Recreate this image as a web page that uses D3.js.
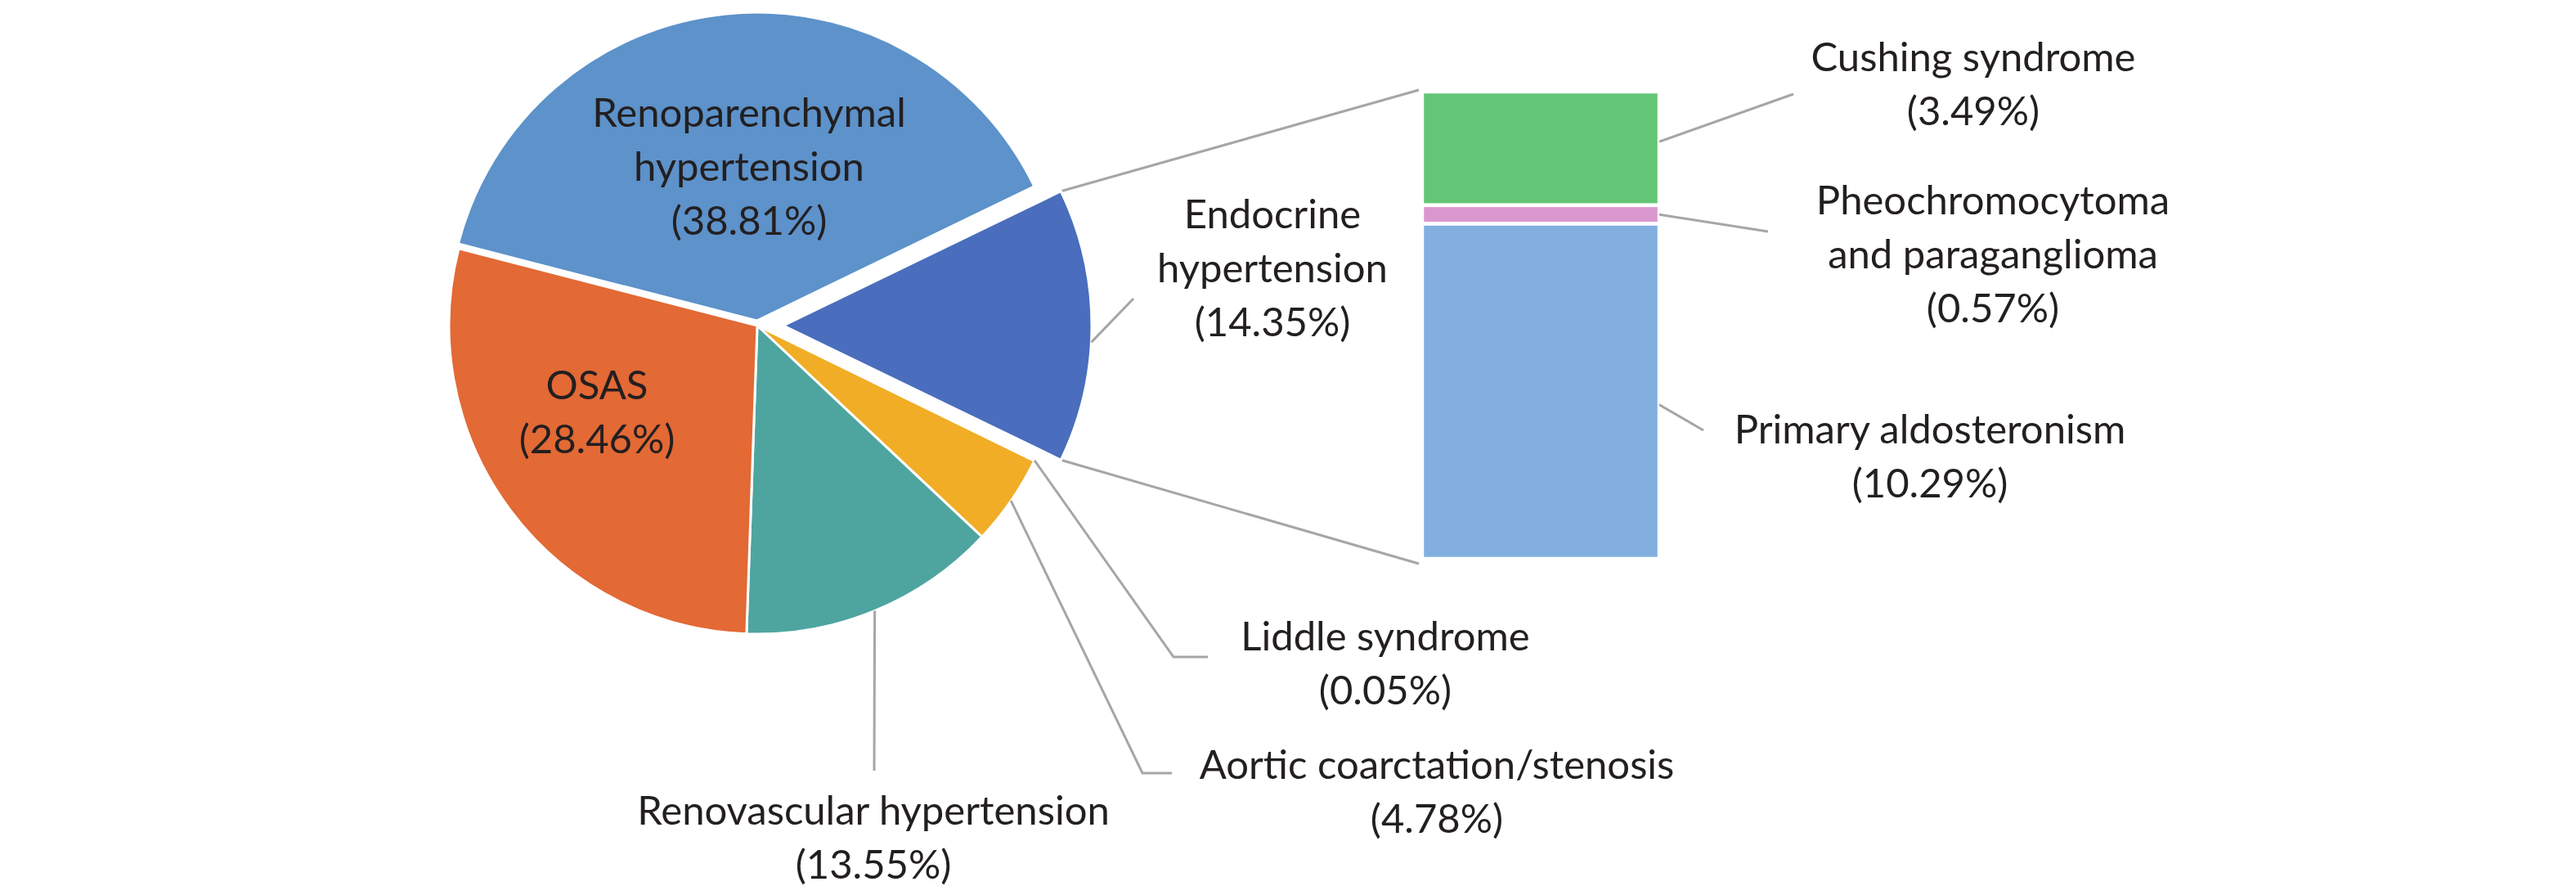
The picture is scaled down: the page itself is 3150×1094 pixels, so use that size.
<!DOCTYPE html>
<head>
  <meta charset="utf-8">
  <script src="https://d3js.org/d3.v7.min.js"></script>
  <style>
    body { margin:0; background:#fff; }
    .label {
      font-family: Lato, 'Open Sans', sans-serif;
      font-size: 49px;
      fill: #231f20;
      text-anchor: middle;
    }
    .leader {
      fill: none;
      stroke: #a6a6a6;
      stroke-width: 3;
    }
    .slice, .seg {
      stroke: #fff;
    }
  </style>
</head>
<body>
  <div class="chart"></div>

  <script>
    // main pie, clockwise from the "other" slice
    const pieCategories = ['Endocrine\nhypertension', 'Liddle syndrome', 'Aortic coarctation/stenosis',
      'Renovascular hypertension', 'OSAS', 'Renoparenchymal\nhypertension'];
    const pieValues = [14.35, 0.05, 4.78, 13.55, 28.46, 38.81];
    const pieColors = ['#4a6dbd', '#e01b22', '#f1ad25', '#4ea59f', '#e36935', '#5d92ca'];

    // secondary stacked bar, top to bottom
    const barCategories = ['Cushing syndrome', 'Pheochromocytoma\nand paraganglioma', 'Primary aldosteronism'];
    const barValues = [3.49, 0.57, 10.29];
    const barColors = ['#63c676', '#da97ce', '#82afe0'];

    const width = 3150, height = 1094;
    const cx = 926, cy = 398, radius = 377;
    const lineHeight = 66;
    const bar = { x: 1739, width: 290, top: 112, bottom: 683 };

    // explode distance per slice index
    const explode = [32, 0, 0, 0, 0, 6];

    // label layout: text centre x, first baseline y, leader attach fraction, leader end points
    const pieLabelPos = [
      { x: 1556, y: 279, t: 0.56, leader: [[1386, 365]] },
      { x: 1694, y: 795, t: 0.5, leader: [[1435, 803], [1477, 803]] },
      { x: 1757, y: 952, t: 0.5, leader: [[1397, 945], [1433, 945]] },
      { x: 1068, y: 1008, t: 0.5, leader: [[1069, 942]] },
      { x: 730, y: 488 },
      { x: 916, y: 155 }
    ];
    const barLabelPos = [
      { x: 2413, y: 87, t: 0.44, leader: [[2193, 115]] },
      { x: 2437, y: 262, t: 0.5, leader: [[2162, 283]] },
      { x: 2360, y: 542, t: 0.54, leader: [[2083, 526]] }
    ];

    const svg = d3.select('.chart')
      .append('svg')
        .attr('width', width)
        .attr('height', height);

    const total = d3.sum(pieValues);
    const otherShare = pieValues[0] / total * 2 * Math.PI;
    const start = Math.PI / 2 - otherShare / 2;

    const pie = d3.pie()
      .sort(null)
      .value(d => d)
      .startAngle(start)
      .endAngle(start + 2 * Math.PI);

    const arcs = pie(pieValues);
    const arc = d3.arc().innerRadius(0).outerRadius(radius);

    const offsetOf = (d, i) => {
      const mid = (d.startAngle + d.endAngle) / 2;
      return [cx + explode[i] * Math.sin(mid), cy - explode[i] * Math.cos(mid)];
    };
    const onArc = (d, i, a) => {
      const o = offsetOf(d, i);
      return [o[0] + radius * Math.sin(a), o[1] - radius * Math.cos(a)];
    };

    // bar scale
    const barTotal = d3.sum(barValues);
    const yScale = d3.scaleLinear()
      .domain([0, barTotal])
      .range([bar.top, bar.bottom]);
    const stacked = barValues.map((v, i) => {
      const y0 = d3.sum(barValues.slice(0, i));
      return { v, y0, y1: y0 + v };
    });

    // connector lines from the exploded slice to the bar
    const other = arcs[0];
    const line = d3.line();
    svg.append('path')
      .attr('class', 'leader')
      .attr('d', line([onArc(other, 0, other.startAngle), [bar.x - 4, yScale(0) - 2]]));
    svg.append('path')
      .attr('class', 'leader')
      .attr('d', line([onArc(other, 0, other.endAngle), [bar.x - 4, yScale(barTotal) + 6]]));

    // slices
    const slices = svg.selectAll('.slice')
      .data(arcs)
      .enter()
      .append('path')
        .attr('class', 'slice')
        .attr('transform', (d, i) => `translate(${offsetOf(d, i)})`)
        .attr('d', arc)
        .attr('fill', (d, i) => pieColors[i])
        .attr('stroke-width', 3);

    // the tiny slice would vanish under the white borders, so outline it in its own colour on top
    slices.filter((d, i) => pieValues[i] < 1)
        .attr('stroke', (d) => pieColors[d.index])
        .attr('stroke-width', 2.2)
        .raise();

    // bar segments
    svg.selectAll('.seg')
      .data(stacked)
      .enter()
      .append('rect')
        .attr('class', 'seg')
        .attr('x', bar.x)
        .attr('width', bar.width)
        .attr('y', d => yScale(d.y0))
        .attr('height', d => yScale(d.y1) - yScale(d.y0))
        .attr('fill', (d, i) => barColors[i])
        .attr('stroke-width', 4.5);

    // leader lines
    pieLabelPos.forEach((p, i) => {
      if (!p.leader) return;
      const d = arcs[i];
      const a = d.startAngle + p.t * (d.endAngle - d.startAngle);
      svg.append('path')
        .attr('class', 'leader')
        .attr('d', line([onArc(d, i, a)].concat(p.leader)));
    });
    barLabelPos.forEach((p, i) => {
      const s = stacked[i];
      const y = yScale(s.y0 + p.t * s.v);
      svg.append('path')
        .attr('class', 'leader')
        .attr('d', line([[bar.x + bar.width, y]].concat(p.leader)));
    });

    // labels
    function addLabel(name, value, p) {
      const lines = name.split('\n').concat([`(${value.toFixed(2)}%)`]);
      const text = svg.append('text')
        .attr('class', 'label')
        .attr('x', p.x)
        .attr('y', p.y);
      lines.forEach((l, k) => {
        text.append('tspan')
          .attr('x', p.x)
          .attr('dy', k === 0 ? 0 : lineHeight)
          .text(l);
      });
    }
    pieCategories.forEach((c, i) => addLabel(c, pieValues[i], pieLabelPos[i]));
    barCategories.forEach((c, i) => addLabel(c, barValues[i], barLabelPos[i]));
  </script>
</body>
